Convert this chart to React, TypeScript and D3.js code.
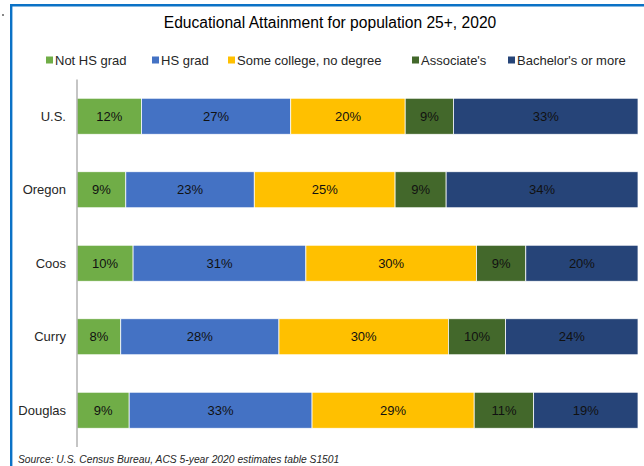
import React from "react";
import * as d3 from "d3";

const title = "Educational Attainment for population 25+, 2020";
const source = "Source: U.S. Census Bureau, ACS 5-year 2020 estimates table S1501";
const categories = ["U.S.", "Oregon", "Coos", "Curry", "Douglas"];
const seriesNames = ["Not HS grad", "HS grad", "Some college, no degree", "Associate's", "Bachelor's or more"];
const seriesColors = ["#70AD47", "#4472C4", "#FFC000", "#43682B", "#264478"];
// percentages per category, in series order
const notHS = [11.5, 8.7, 10.0, 7.8, 9.3];
const hsGrad = [26.6, 22.9, 30.8, 28.2, 32.6];
const someCollege = [20.4, 25.1, 30.4, 30.2, 28.9];
const associates = [8.6, 9.1, 8.8, 10.2, 10.6];
const bachelors = [32.9, 34.2, 20.0, 23.6, 18.6];
const labelValues = [
  [12, 27, 20, 9, 33],
  [9, 23, 25, 9, 34],
  [10, 31, 30, 9, 20],
  [8, 28, 30, 10, 24],
  [9, 33, 29, 11, 19],
];

const W = 644;
const H = 466;
const plotLeft = 77;
const plotRight = 638;
const plotTop = 79.5;
const plotBottom = 447;
const FONT = "'Liberation Sans', Arial, sans-serif";

export default function App() {
  const series = [notHS, hsGrad, someCollege, associates, bachelors];
  const rows = categories.map((c, i) => {
    const o: any = { cat: c };
    seriesNames.forEach((s, j) => (o[s] = series[j][i]));
    return o;
  });
  const stack = d3.stack().keys(seriesNames)(rows);
  const x = d3.scaleLinear().domain([0, 100]).range([plotLeft, plotRight]);
  const y = d3.scaleBand().domain(categories).range([plotTop, plotBottom]).paddingInner(0.51).paddingOuter(0.255);

  const legendX = [46, 152, 228, 412, 508];

  return (
    <svg width={W} height={H} style={{ position: "absolute", left: 0, top: 0, display: "block" }} fontFamily={FONT}>
      <rect x={0} y={0} width={W} height={H} fill="#fff" />
      {/* frame */}
      <rect x={2} y={14} width={2} height={2} fill="#888" />
      <line x1={10} x2={W} y1={5.2} y2={5.2} stroke="#0B72C6" strokeWidth={2.4} />
      <line x1={11.2} x2={11.2} y1={4} y2={H} stroke="#0B72C6" strokeWidth={2.4} />

      <text x={330} y={27.5} textAnchor="middle" fontSize={15.6} fill="#000">{title}</text>

      {seriesNames.map((s, j) => (
        <g key={s}>
          <rect x={legendX[j]} y={56.5} width={7} height={7} fill={seriesColors[j]} />
          <text x={legendX[j] + 9} y={64.5} fontSize={13} fill="#262626">{s}</text>
        </g>
      ))}

      {stack.map((layer, j) => (
        <g key={j}>
          {layer.map((d, i) => {
            const x0 = x(d[0]);
            const x1 = x(d[1]);
            const yy = y(categories[i])!;
            return (
              <g key={i}>
                <rect x={x0} y={yy} width={x1 - x0} height={y.bandwidth()} fill={seriesColors[j]} stroke="#fff" strokeWidth={0.75} />
                <text x={(x0 + x1) / 2} y={yy + y.bandwidth() / 2 + 4.5} textAnchor="middle" fontSize={13} fill="#111">
                  {labelValues[i][j]}%
                </text>
              </g>
            );
          })}
        </g>
      ))}

      <line x1={plotLeft} x2={plotLeft} y1={plotTop} y2={plotBottom} stroke="#a6a6a6" strokeWidth={1.3} />

      {categories.map((c) => (
        <text key={c} x={66} y={y(c)! + y.bandwidth() / 2 + 4.5} textAnchor="end" fontSize={13} fill="#262626">{c}</text>
      ))}

      <text x={18} y={463} fontSize={10.3} fontStyle="italic" fill="#262626">{source}</text>
    </svg>
  );
}
